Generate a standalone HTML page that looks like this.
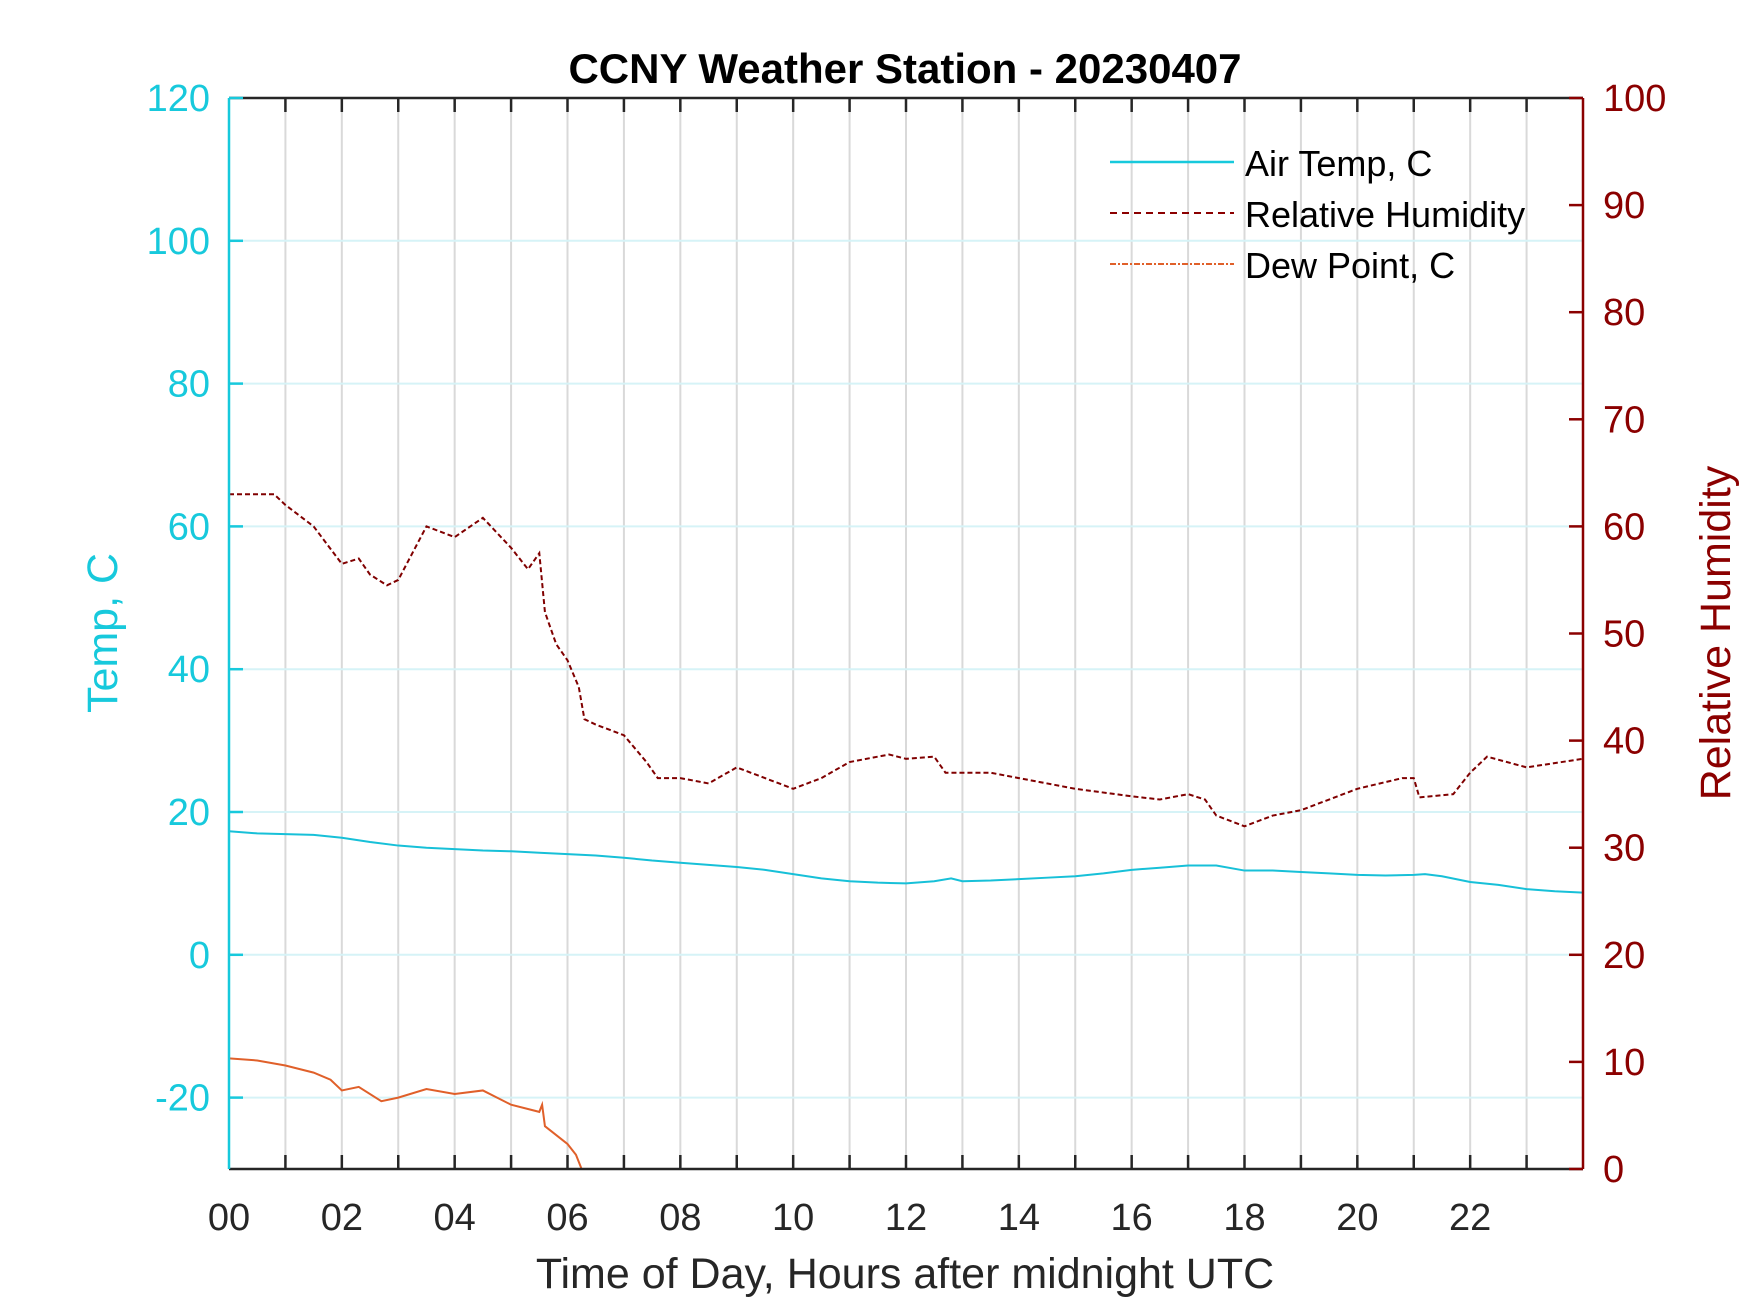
<!DOCTYPE html>
<html><head><meta charset="utf-8">
<style>
html,body{margin:0;padding:0;background:#fff;}
svg{display:block;font-family:"Liberation Sans",Arial,sans-serif;}
</style></head>
<body>
<svg id="chart" width="1750" height="1313" viewBox="0 0 1750 1313" xmlns="http://www.w3.org/2000/svg">
<rect width="1750" height="1313" fill="#fff"/>
<g id="grid"></g>
<g id="series"></g>
<g id="axes"></g>
<text x="905" y="83" text-anchor="middle" font-size="42" font-weight="bold" fill="#000">CCNY Weather Station - 20230407</text>
<text x="905" y="1288" text-anchor="middle" font-size="43" fill="#262626">Time of Day, Hours after midnight UTC</text>
<text transform="translate(117,633) rotate(-90)" text-anchor="middle" font-size="43" fill="#17c9dc">Temp, C</text>
<text transform="translate(1730,633) rotate(-90)" text-anchor="middle" font-size="43" fill="#8b0000">Relative Humidity</text>
<g>
<line x1="1110" y1="162" x2="1234" y2="162" stroke="#17c9dc" stroke-width="2.5"/>
<text x="1245" y="176" font-size="36" fill="#000">Air Temp, C</text>
<line x1="1110" y1="213" x2="1234" y2="213" stroke="#8b0000" stroke-width="2" stroke-dasharray="7,5"/>
<text x="1245" y="227" font-size="36" fill="#000">Relative Humidity</text>
<line x1="1110" y1="264" x2="1234" y2="264" stroke="#e0602a" stroke-width="2" stroke-dasharray="6,2,2,2"/>
<text x="1245" y="278" font-size="36" fill="#000">Dew Point, C</text>
</g>
</svg>
<script>
const tempHours = [0,0.5,1,1.5,2,2.5,3,3.5,4,4.5,5,5.5,6,6.5,7,7.5,8,8.5,9,9.5,10,10.5,11,11.5,12,12.5,12.8,13,13.5,14,14.5,15,15.5,16,16.5,17,17.5,18,18.5,19,19.5,20,20.5,21,21.2,21.5,22,22.5,23,23.5,24];
const tempValues = [17.3,17.0,16.9,16.8,16.4,15.8,15.3,15.0,14.8,14.6,14.5,14.3,14.1,13.9,13.6,13.2,12.9,12.6,12.3,11.9,11.3,10.7,10.3,10.1,10.0,10.3,10.7,10.3,10.4,10.6,10.8,11.0,11.4,11.9,12.2,12.5,12.5,11.8,11.8,11.6,11.4,11.2,11.1,11.2,11.3,11.0,10.2,9.8,9.2,8.9,8.7];
const rhHours = [0,0.8,1,1.5,2,2.3,2.5,2.8,3,3.5,4,4.5,5,5.3,5.5,5.6,5.8,6,6.2,6.3,6.5,7,7.4,7.6,8,8.5,9,9.5,10,10.5,11,11.7,12,12.5,12.7,13,13.5,14,15,16,16.5,17,17.3,17.5,18,18.5,19,20,20.8,21,21.1,21.7,22,22.3,23,24];
const rhValues = [63,63,62,60,56.5,57,55.5,54.5,55,60,59,60.8,58,56,57.5,52,49,47.5,45,42,41.5,40.5,38,36.5,36.5,36,37.5,36.5,35.5,36.5,38,38.7,38.3,38.5,37,37,37,36.5,35.5,34.8,34.5,35,34.5,33,32,33,33.5,35.5,36.5,36.5,34.7,35,37,38.5,37.5,38.3];
const dewHours = [0,0.5,1,1.5,1.8,2,2.3,2.7,3,3.5,4,4.5,5,5.5,5.55,5.6,6,6.15,6.25];
const dewValues = [-14.5,-14.8,-15.5,-16.5,-17.5,-19,-18.5,-20.5,-20,-18.8,-19.5,-19,-21,-22,-21,-24,-26.5,-28,-30];
const xTickLabels = ["00","02","04","06","08","10","12","14","16","18","20","22"];
const leftTicks = [-20,0,20,40,60,80,100,120];
const rightTicks = [0,10,20,30,40,50,60,70,80,90,100];

const L=229,R=1583,T=98,B=1169;
const xS = h => L + (h/24)*(R-L);
const yT = v => B - (v+30)/150*(B-T);
const yR = v => B - v/100*(B-T);
const NS="http://www.w3.org/2000/svg";
function mk(tag, attrs, parent){const e=document.createElementNS(NS,tag);for(const k in attrs)e.setAttribute(k,attrs[k]);parent.appendChild(e);return e;}
const grid=document.getElementById('grid'), series=document.getElementById('series'), axes=document.getElementById('axes');

for(let h=1;h<24;h++){
  const g=mk('line',{x1:xS(h),x2:xS(h),y1:T,y2:B,stroke:'#d9d9d9','stroke-width':2},grid);
  
  
}
leftTicks.forEach(v=>{
  const g=mk('line',{x1:L,x2:R,y1:yT(v),y2:yT(v),stroke:'#d6f3f7','stroke-width':2},grid);
  
  
});

function poly(hs,vs,yf,attrs,name){
  const p=mk('polyline',Object.assign({points:hs.map((h,i)=>xS(h)+','+yf(vs[i])).join(' '),fill:'none'},attrs),series);
  
  
}
poly(tempHours,tempValues,yT,{stroke:'#17c0d8','stroke-width':2},'air-temp-line');
poly(rhHours,rhValues,yR,{stroke:'#800000','stroke-width':2,'stroke-dasharray':'5,3'},'humidity-line');
poly(dewHours,dewValues,yT,{stroke:'#e0602a','stroke-width':2},'dew-point-line');

let a;
a=mk('line',{x1:L,x2:R,y1:T,y2:T,stroke:'#262626','stroke-width':2.5},axes);

a=mk('line',{x1:L,x2:R,y1:B,y2:B,stroke:'#262626','stroke-width':2.5},axes);

a=mk('line',{x1:L,x2:L,y1:T,y2:B,stroke:'#17c9dc','stroke-width':2.5},axes);

a=mk('line',{x1:R,x2:R,y1:T,y2:B,stroke:'#8b0000','stroke-width':2.5},axes);


for(let h=1;h<24;h++){
  mk('line',{x1:xS(h),x2:xS(h),y1:T,y2:T+14,stroke:'#262626','stroke-width':2.5},axes);
  mk('line',{x1:xS(h),x2:xS(h),y1:B,y2:B-14,stroke:'#262626','stroke-width':2.5},axes);
}
xTickLabels.forEach((s,i)=>{
  const t=mk('text',{x:xS(i*2),y:1230,'text-anchor':'middle','font-size':38,fill:'#262626'},axes);
  t.textContent=s;
  
  
});
leftTicks.forEach(v=>{
  mk('line',{x1:L,x2:L+14,y1:yT(v),y2:yT(v),stroke:'#17c9dc','stroke-width':2.5},axes);
  const t=mk('text',{x:210,y:yT(v)+13,'text-anchor':'end','font-size':38,fill:'#17c9dc'},axes);
  t.textContent=v;
  
  
});
rightTicks.forEach(v=>{
  mk('line',{x1:R-14,x2:R,y1:yR(v),y2:yR(v),stroke:'#8b0000','stroke-width':2.5},axes);
  const t=mk('text',{x:1603,y:yR(v)+13,'text-anchor':'start','font-size':38,fill:'#8b0000'},axes);
  t.textContent=v;
  
  
});
</script>
</body></html>
